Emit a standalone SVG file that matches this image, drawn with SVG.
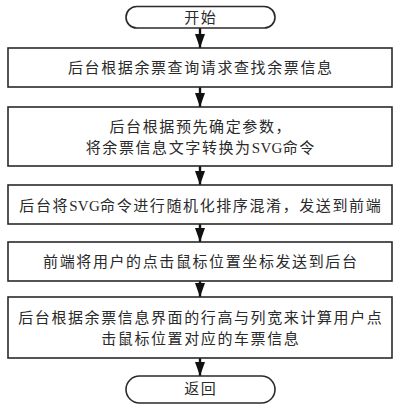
<svg xmlns="http://www.w3.org/2000/svg" width="402" height="410" viewBox="0 0 402 410">
<defs>
<marker id="ah" viewBox="0 0 14 10" refX="14" refY="5" markerWidth="14" markerHeight="10" markerUnits="userSpaceOnUse" orient="auto">
<path d="M0,0 L14,5 L0,10 Z" fill="#111"/>
</marker>
</defs>
<style>
.box{fill:#fff;stroke:#2a2a2a;stroke-width:1.6}
.t{font-family:"Liberation Serif","Noto Sans CJK SC",serif;font-size:15px;fill:#2a2a2a;text-anchor:middle;letter-spacing:1.6px}
.l{letter-spacing:0.3px}
.c{stroke:#111;stroke-width:2.4;fill:none;marker-end:url(#ah)}
</style>
<rect width="402" height="410" fill="#fff"/>
<g id="connectors">
<line class="c" x1="200" y1="28" x2="200" y2="48"/>
<line class="c" x1="200" y1="87" x2="200" y2="107"/>
<line class="c" x1="200" y1="166" x2="200" y2="185"/>
<line class="c" x1="200" y1="224" x2="200" y2="242"/>
<line class="c" x1="200" y1="281" x2="200" y2="297"/>
<line class="c" x1="200" y1="358" x2="200" y2="376"/>
</g>
<g id="start">
<rect class="box" x="126" y="6.5" width="149" height="21.5" rx="10.75"/>
<text class="t" x="200.8" y="22.5">开始</text>
</g>
<g id="step1">
<rect class="box" x="8" y="48" width="384" height="39"/>
<text class="t" x="200.8" y="73">后台根据余票查询请求查找余票信息</text>
</g>
<g id="step2">
<rect class="box" x="8" y="107" width="384" height="59"/>
<text class="t" x="200.8" y="132">后台根据预先确定参数，</text>
<text class="t" x="200.8" y="153">将余票信息文字转换为<tspan class="l">SVG</tspan>命令</text>
</g>
<g id="step3">
<rect class="box" x="8" y="185" width="384" height="39"/>
<text class="t" x="200.8" y="211">后台将<tspan class="l">SVG</tspan>命令进行随机化排序混淆，发送到前端</text>
</g>
<g id="step4">
<rect class="box" x="8" y="242" width="384" height="39"/>
<text class="t" x="200.8" y="266.5">前端将用户的点击鼠标位置坐标发送到后台</text>
</g>
<g id="step5">
<rect class="box" x="8" y="297" width="384" height="61"/>
<text class="t" x="200.8" y="323">后台根据余票信息界面的行高与列宽来计算用户点</text>
<text class="t" x="200.8" y="343.5">击鼠标位置对应的车票信息</text>
</g>
<g id="end">
<rect class="box" x="126" y="376" width="149" height="27" rx="13.5"/>
<text class="t" x="200.8" y="394">返回</text>
</g>
</svg>
